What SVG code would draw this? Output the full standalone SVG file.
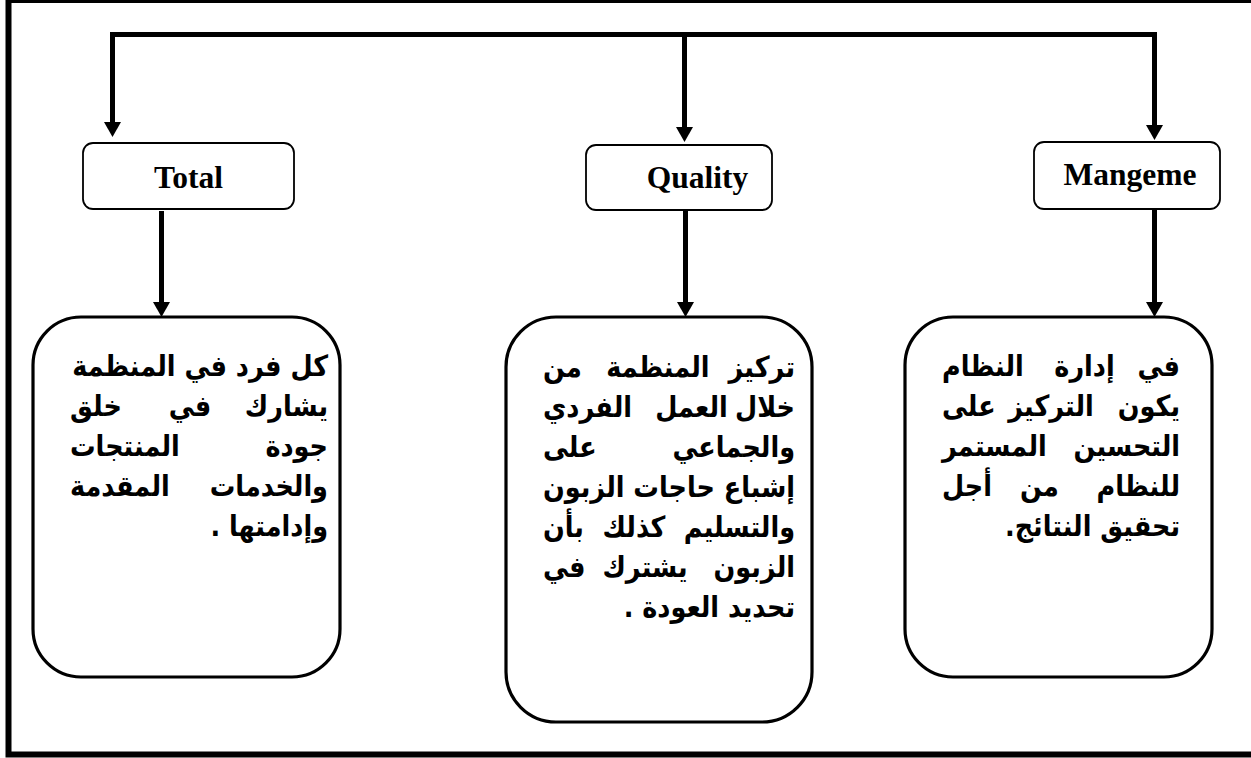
<svg xmlns="http://www.w3.org/2000/svg" width="1251" height="758" viewBox="0 0 1251 758">
<style>
.frame{fill:none;stroke:#000;stroke-width:6}
.conn{fill:none;stroke:#000;stroke-width:5;stroke-linejoin:miter}
.sbox{fill:#fff;stroke:#000;stroke-width:1.8}
.bbox{fill:#fff;stroke:#000;stroke-width:3.2}
.lbl{font-family:"Liberation Serif","Times New Roman",serif;font-weight:bold;font-size:31.5px;fill:#000}
.ar{font-family:"DejaVu Sans","Noto Sans",sans-serif;font-weight:bold;font-size:29px;fill:#000}
</style>
<defs>
<marker id="ah" viewBox="0 0 15 17" refX="0" refY="8.5" markerWidth="15" markerHeight="17" markerUnits="userSpaceOnUse" orient="auto-start-reverse">
<path d="M0,0 L15,8.5 L0,17 Z" fill="#000"/>
</marker>
</defs>
<rect width="1251" height="758" fill="#fff"/>
<path class="frame" d="M1260 0 H8.5 V754.5 H1260"/>
<g id="connectors">
<path class="conn" d="M112.5 122 V34.5 H1154.5 V125" marker-start="url(#ah)" marker-end="url(#ah)"/>
<path class="conn" d="M684.5 34.5 V127" marker-end="url(#ah)"/>
<path class="conn" d="M161.5 211 V302" marker-end="url(#ah)"/>
<path class="conn" d="M685.5 211 V302" marker-end="url(#ah)"/>
<path class="conn" d="M1154.5 209 V302" marker-end="url(#ah)"/>
</g>
<g id="node-total">
<rect class="sbox" x="83" y="143" width="211" height="66" rx="10"/>
<text class="lbl" x="188.5" y="188" text-anchor="middle">Total</text>
</g>
<g id="node-quality">
<rect class="sbox" x="586" y="145" width="186" height="65" rx="10"/>
<text class="lbl" x="697.5" y="188" text-anchor="middle">Quality</text>
</g>
<g id="node-management">
<rect class="sbox" x="1034" y="142" width="186" height="67" rx="10"/>
<text class="lbl" x="1130" y="185" text-anchor="middle">Mangeme</text>
</g>
<g id="node-total-desc">
<rect class="bbox" x="33" y="317" width="307" height="360" rx="48"/>
<text class="ar" direction="rtl" x="328" y="376" text-anchor="start" transform="matrix(0.88 0 0 1 39.36 0)">كل فرد في المنظمة</text>
<text class="ar" direction="rtl" x="328" y="416" text-anchor="start" transform="matrix(0.88 0 0 1 39.36 0)">يشارك</text>
<text class="ar" direction="rtl" x="190" y="416" text-anchor="middle" transform="matrix(0.88 0 0 1 22.8 0)">في</text>
<text class="ar" direction="rtl" x="70" y="416" text-anchor="end" transform="matrix(0.88 0 0 1 8.4 0)">خلق</text>
<text class="ar" direction="rtl" x="328" y="456" text-anchor="start" transform="matrix(0.88 0 0 1 39.36 0)">جودة</text>
<text class="ar" direction="rtl" x="70" y="456" text-anchor="end" transform="matrix(0.88 0 0 1 8.4 0)">المنتجات</text>
<text class="ar" direction="rtl" x="328" y="496" text-anchor="start" transform="matrix(0.88 0 0 1 39.36 0)">والخدمات</text>
<text class="ar" direction="rtl" x="70" y="496" text-anchor="end" transform="matrix(0.88 0 0 1 8.4 0)">المقدمة</text>
<text class="ar" direction="rtl" x="328" y="536" text-anchor="start" transform="matrix(0.88 0 0 1 39.36 0)">وإدامتها .</text>
</g>
<g id="node-quality-desc">
<rect class="bbox" x="506" y="317" width="306" height="405" rx="50"/>
<text class="ar" direction="rtl" x="795" y="377" text-anchor="start" transform="matrix(0.88 0 0 1 95.4 0)">تركيز</text>
<text class="ar" direction="rtl" x="658" y="377" text-anchor="middle" transform="matrix(0.88 0 0 1 78.96 0)">المنظمة</text>
<text class="ar" direction="rtl" x="543" y="377" text-anchor="end" transform="matrix(0.88 0 0 1 65.16 0)">من</text>
<text class="ar" direction="rtl" x="795" y="417" text-anchor="start" transform="matrix(0.88 0 0 1 95.4 0)">خلال</text>
<text class="ar" direction="rtl" x="691.5" y="417" text-anchor="middle" transform="matrix(0.88 0 0 1 82.98 0)">العمل</text>
<text class="ar" direction="rtl" x="543" y="417" text-anchor="end" transform="matrix(0.88 0 0 1 65.16 0)">الفردي</text>
<text class="ar" direction="rtl" x="795" y="457" text-anchor="start" transform="matrix(0.88 0 0 1 95.4 0)">والجماعي</text>
<text class="ar" direction="rtl" x="543" y="457" text-anchor="end" transform="matrix(0.88 0 0 1 65.16 0)">على</text>
<text class="ar" direction="rtl" x="795" y="497" text-anchor="start" transform="matrix(0.88 0 0 1 95.4 0)">إشباع حاجات الزبون</text>
<text class="ar" direction="rtl" x="795" y="537" text-anchor="start" transform="matrix(0.88 0 0 1 95.4 0)">والتسليم</text>
<text class="ar" direction="rtl" x="634" y="537" text-anchor="middle" transform="matrix(0.88 0 0 1 76.08 0)">كذلك</text>
<text class="ar" direction="rtl" x="543" y="537" text-anchor="end" transform="matrix(0.88 0 0 1 65.16 0)">بأن</text>
<text class="ar" direction="rtl" x="795" y="577" text-anchor="start" transform="matrix(0.88 0 0 1 95.4 0)">الزبون</text>
<text class="ar" direction="rtl" x="645" y="577" text-anchor="middle" transform="matrix(0.88 0 0 1 77.4 0)">يشترك</text>
<text class="ar" direction="rtl" x="543" y="577" text-anchor="end" transform="matrix(0.88 0 0 1 65.16 0)">في</text>
<text class="ar" direction="rtl" x="795" y="617" text-anchor="start" transform="matrix(0.88 0 0 1 95.4 0)">تحديد العودة .</text>
</g>
<g id="node-management-desc">
<rect class="bbox" x="905" y="317" width="307" height="360" rx="48"/>
<text class="ar" direction="rtl" x="1180" y="376" text-anchor="start" transform="matrix(0.88 0 0 1 141.6 0)">في</text>
<text class="ar" direction="rtl" x="1084.5" y="376" text-anchor="middle" transform="matrix(0.88 0 0 1 130.14 0)">إدارة</text>
<text class="ar" direction="rtl" x="942" y="376" text-anchor="end" transform="matrix(0.88 0 0 1 113.04 0)">النظام</text>
<text class="ar" direction="rtl" x="1180" y="416" text-anchor="start" transform="matrix(0.88 0 0 1 141.6 0)">يكون</text>
<text class="ar" direction="rtl" x="1051" y="416" text-anchor="middle" transform="matrix(0.88 0 0 1 126.12 0)">التركيز</text>
<text class="ar" direction="rtl" x="942" y="416" text-anchor="end" transform="matrix(0.88 0 0 1 113.04 0)">على</text>
<text class="ar" direction="rtl" x="1180" y="456" text-anchor="start" transform="matrix(0.88 0 0 1 141.6 0)">التحسين</text>
<text class="ar" direction="rtl" x="942" y="456" text-anchor="end" transform="matrix(0.88 0 0 1 113.04 0)">المستمر</text>
<text class="ar" direction="rtl" x="1180" y="496" text-anchor="start" transform="matrix(0.88 0 0 1 141.6 0)">للنظام</text>
<text class="ar" direction="rtl" x="1039.5" y="496" text-anchor="middle" transform="matrix(0.88 0 0 1 124.74 0)">من</text>
<text class="ar" direction="rtl" x="942" y="496" text-anchor="end" transform="matrix(0.88 0 0 1 113.04 0)">أجل</text>
<text class="ar" direction="rtl" x="1180" y="536" text-anchor="start" transform="matrix(0.88 0 0 1 141.6 0)">تحقيق النتائج.</text>
</g>
</svg>
